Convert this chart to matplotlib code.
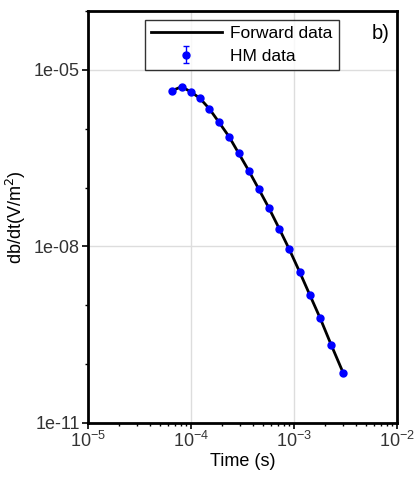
import matplotlib
matplotlib.use("Agg")
import matplotlib.pyplot as plt
from matplotlib.ticker import FixedLocator, FixedFormatter, LogLocator, NullFormatter

plt.rcParams["font.family"] = ["Liberation Sans", "DejaVu Sans"]

# gate times (s) and dB/dt responses (V/m^2)
time_s = [6.58e-5, 8.1e-5, 9.9e-5, 1.22e-4, 1.51e-4, 1.87e-4, 2.34e-4, 2.90e-4,
          3.63e-4, 4.54e-4, 5.71e-4, 7.19e-4, 8.99e-4, 1.135e-3, 1.42e-3,
          1.79e-3, 2.29e-3, 3.01e-3]
forward = [4.46e-6, 5.2e-6, 4.28e-6, 3.31e-6, 2.18e-6, 1.29e-6, 7.37e-7, 3.85e-7,
           1.95e-7, 9.5e-8, 4.49e-8, 2.0e-8, 8.95e-9, 3.67e-9, 1.51e-9,
           6.08e-10, 2.14e-10, 6.98e-11]
hm_data = [4.46e-6, 5.2e-6, 4.28e-6, 3.31e-6, 2.18e-6, 1.29e-6, 7.37e-7, 3.85e-7,
           1.95e-7, 9.5e-8, 4.49e-8, 2.0e-8, 8.95e-9, 3.67e-9, 1.51e-9,
           6.08e-10, 2.14e-10, 6.98e-11]
rel_err = [0.03] * len(hm_data)

y_major = [1e-11, 1e-8, 1e-5]
y_labels = ["1e-11", "1e-08", "1e-05"]
y_minor = [1e-10, 1e-9, 1e-7, 1e-6, 1e-4]

fig = plt.figure(figsize=(4.17, 4.87), dpi=100)
ax = fig.add_axes([0.211, 0.132, 0.741, 0.845])

ax.plot(time_s, forward, color="black", lw=2, label="Forward data", zorder=3)
ax.errorbar(time_s, hm_data, yerr=[v * e for v, e in zip(hm_data, rel_err)],
            fmt="o", color="#0000ff", ms=5, capsize=2, elinewidth=1,
            label="HM data", zorder=4)

ax.set_xscale("log")
ax.set_yscale("log")
ax.set_xlim(1e-5, 1e-2)
ax.set_ylim(1e-11, 1e-4)

ax.yaxis.set_major_locator(FixedLocator(y_major))
ax.yaxis.set_major_formatter(FixedFormatter(y_labels))
ax.yaxis.set_minor_locator(FixedLocator(y_minor))
ax.yaxis.set_minor_formatter(NullFormatter())
ax.xaxis.set_minor_locator(LogLocator(base=10, subs=range(2, 10)))
ax.xaxis.set_minor_formatter(NullFormatter())

ax.grid(True, which="major", color="#dddddd", lw=1)
ax.set_axisbelow(True)
for s in ax.spines.values():
    s.set_linewidth(2)
ax.tick_params(which="major", length=4, width=1.2, labelsize=13, labelcolor="#333333", pad=2)
ax.tick_params(which="minor", length=2.5, width=1)

ax.set_xlabel("Time (s)", fontsize=13, labelpad=1)
ax.set_ylabel("db/dt(V/m$^2$)", fontsize=13, labelpad=4)

leg = ax.legend(loc="upper left", bbox_to_anchor=(0.183, 0.978), fontsize=12.5,
                frameon=True, fancybox=False, edgecolor="black",
                handlelength=4.1, borderpad=0.35, labelspacing=0.4,
                handletextpad=0.5, borderaxespad=0)
leg.get_frame().set_linewidth(1)

ax.text(0.975, 0.97, "b)", transform=ax.transAxes, ha="right", va="top", fontsize=14.5)

fig.savefig("out.png", dpi=100)
